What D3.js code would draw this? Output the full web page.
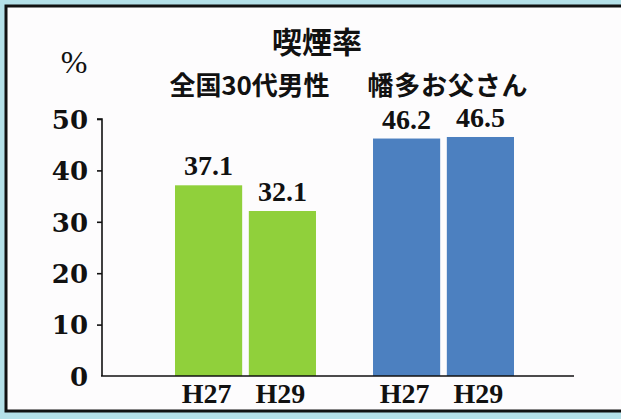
<!DOCTYPE html>
<html>
<head>
<meta charset="utf-8">
<script src="https://cdn.jsdelivr.net/npm/d3@7"></script>
<style>
  html, body { margin: 0; padding: 0; background: #fdfcfd; overflow: hidden; width: 621px; height: 419px; }
  svg { display: block; overflow: visible; }
</style>
</head>
<body>
<svg id="chart" width="621" height="419"></svg>
<script>
const title = "喫煙率";
const unitLabel = "%";
const groups = ["全国30代男性", "幡多お父さん"];
const years = ["H27", "H29"];
const nationalValues = [37.1, 32.1];
const hataValues = [46.2, 46.5];
const yTicks = [0, 10, 20, 30, 40, 50];
const groupColors = ["#90d03b", "#4c80c0"];

const seriesValues = [nationalValues, hataValues];
const data = [];
groups.forEach((g, gi) => years.forEach((yr, yi) => data.push({group: g, year: yr, value: seriesValues[gi][yi], gi})));

const svg = d3.select("#chart");

// background around the paper
svg.append("rect").attr("x", 0).attr("y", 0).attr("width", 800).attr("height", 419).attr("fill", "#b4e0e8");
// paper frame (right edge runs off the picture)
svg.append("rect").attr("x", 6).attr("y", 6).attr("width", 800).attr("height", 405)
  .attr("fill", "#fdfcfd").attr("stroke", "#111").attr("stroke-width", 3);

const y = d3.scaleLinear().domain([0, 50]).range([376, 119]);
const x0 = d3.scaleBand().domain(groups).range([175, 514]).paddingInner(0.288).paddingOuter(0);
const x1 = d3.scaleBand().domain(years).range([0, x0.bandwidth()]).paddingInner(0.09);

// title
svg.append("text").attr("x", 317).attr("y", 53).attr("text-anchor", "middle")
  .attr("font-family", "Noto Sans CJK JP").attr("font-weight", 700).attr("font-size", 30)
  .attr("fill", "#111").text(title);

svg.append("text").attr("x", 74).attr("y", 73).attr("text-anchor", "middle")
  .attr("font-family", "Liberation Serif").attr("font-size", 32)
  .attr("fill", "#111").text(unitLabel);

// group labels
svg.selectAll(".glabel").data(groups).join("text").attr("class", "glabel")
  .attr("x", d => x0(d) + x0.bandwidth() / 2 + 4).attr("y", 95).attr("text-anchor", "middle")
  .attr("font-family", "Noto Sans CJK JP").attr("font-weight", 700).attr("font-size", 26)
  .attr("textLength", 160).attr("lengthAdjust", "spacing")
  .attr("fill", "#111").text(d => d);

// y axis
const yAxis = d3.axisLeft(y).tickValues(yTicks).tickSize(5).tickPadding(9).tickFormat(d3.format("d"));
const ya = svg.append("g").attr("transform", "translate(102,0)").call(yAxis);
ya.select(".domain").attr("stroke", "#111").attr("stroke-width", 1.6).attr("d", `M-5,${y(50)}H0V${y(0)}`);
ya.selectAll(".tick line").attr("stroke", "#111").attr("stroke-width", 1.6);
ya.selectAll(".tick").filter(d => d === 0).select("line").remove();
ya.selectAll(".tick text").attr("font-family", "DejaVu Serif").attr("font-weight", 700)
  .attr("font-size", 26).attr("fill", "#111").attr("dy", "0.36em");

// bars
const bars = svg.append("g");
bars.selectAll("rect").data(data).join("rect")
  .attr("x", d => x0(d.group) + x1(d.year))
  .attr("y", d => y(d.value))
  .attr("width", x1.bandwidth())
  .attr("height", d => y(0) - y(d.value))
  .attr("fill", d => groupColors[d.gi]);

// baseline
svg.append("line").attr("x1", 101).attr("x2", 574).attr("y1", y(0)).attr("y2", y(0))
  .attr("stroke", "#111").attr("stroke-width", 1.6);

// value labels
svg.selectAll(".vlabel").data(data).join("text").attr("class", "vlabel")
  .attr("x", d => x0(d.group) + x1(d.year) + x1.bandwidth() / 2)
  .attr("y", d => y(d.value) - 10).attr("text-anchor", "middle")
  .attr("font-family", "Liberation Serif").attr("font-weight", 700).attr("font-size", 28)
  .attr("fill", "#111").text(d => d.value.toFixed(1));

// x labels
svg.selectAll(".xlabel").data(data).join("text").attr("class", "xlabel")
  .attr("x", d => x0(d.group) + x1(d.year) + x1.bandwidth() / 2 - 2)
  .attr("y", 403).attr("text-anchor", "middle")
  .attr("font-family", "Liberation Serif").attr("font-weight", 700).attr("font-size", 28)
  .attr("fill", "#111").text(d => d.year);
</script>
</body>
</html>
